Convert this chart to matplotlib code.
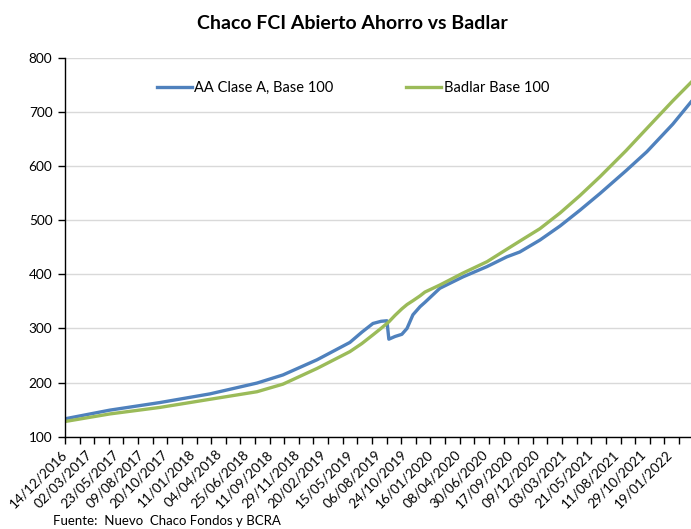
import numpy as np
import pandas as pd
import matplotlib
matplotlib.use('Agg')
import matplotlib.pyplot as plt
import matplotlib.transforms as mtransforms

plt.rcParams['font.family'] = ['Lato', 'DejaVu Sans']

# Valores (base 100)
fechas = ['2016-12-14', '2017-05-01', '2017-10-02', '2018-03-05', '2018-07-28',
          '2018-10-16', '2019-01-29', '2019-05-10', '2019-06-16', '2019-07-20',
          '2019-08-14', '2019-09-01', '2019-09-07', '2019-09-26', '2019-10-17',
          '2019-11-02', '2019-11-20', '2019-12-12', '2019-12-27', '2020-02-11',
          '2020-04-22', '2020-07-05', '2020-09-04', '2020-10-14', '2020-12-15',
          '2021-02-15', '2021-04-17', '2021-06-18', '2021-09-06', '2021-11-09',
          '2022-01-28', '2022-03-25']
aa_clase_a = [133, 149, 163, 179, 199, 214, 242, 274, 293, 309,
              313, 314, 280, 285, 289, 300, 325, 340, 348, 374,
              395, 414, 432, 441, 463, 489, 518, 549, 591, 626,
              677, 718]
badlar = [128, 142, 154, 169, 183, 197, 226, 257, 272, 288,
          300, 309, 312, 324, 336, 344, 351, 360, 367, 380,
          402, 423, 446, 461, 484, 513, 545, 580, 628, 669,
          720, 754]

etiquetas_x = ['14/12/2016', '02/03/2017', '23/05/2017', '09/08/2017', '20/10/2017',
               '11/01/2018', '04/04/2018', '25/06/2018', '11/09/2018', '29/11/2018',
               '20/02/2019', '15/05/2019', '06/08/2019', '24/10/2019', '16/01/2020',
               '08/04/2020', '30/06/2020', '17/09/2020', '09/12/2020', '03/03/2021',
               '21/05/2021', '11/08/2021', '29/10/2021', '19/01/2022']

x = pd.to_datetime(fechas)
x_etiq = pd.to_datetime(etiquetas_x, format='%d/%m/%Y')

fig = plt.figure(figsize=(6.91, 5.29), dpi=100)
ax = fig.add_axes([0.094, 0.1745, 0.906, 0.7168])

ax.plot(x, aa_clase_a, color='#4F81BD', lw=2.4, label='AA Clase A, Base 100')
ax.plot(x, badlar, color='#9BBB59', lw=2.4, label='Badlar Base 100')

ax.set_ylim(100, 800)
ax.set_yticks(range(100, 801, 100))
ax.set_xlim(x[0], x[-1])

# marcas del eje cada ~45 dias, etiquetas aparte (eje de categorias estilo Excel)
ax.xaxis.remove_overlapping_locs = False
marcas = np.arange(np.datetime64('2016-12-14'), np.datetime64('2022-03-25'), np.timedelta64(45, 'D'))
ax.set_xticks(marcas)
ax.set_xticklabels([])
ax.set_xticks(x_etiq, minor=True)
ax.set_xticklabels(etiquetas_x, minor=True, rotation=45, ha='right', va='center',
                   rotation_mode='anchor', fontsize=9.8)
desplaza = mtransforms.ScaledTranslation(3 / 100, 0, fig.dpi_scale_trans)
for lbl in ax.get_xticklabels(minor=True):
    lbl.set_transform(lbl.get_transform() + desplaza)

ax.tick_params(axis='x', which='major', direction='out', length=5, width=1, color='black')
ax.tick_params(axis='x', which='minor', length=0, pad=11)
ax.tick_params(axis='y', direction='out', length=5, width=1, labelsize=9.8, pad=4)

ax.grid(axis='y', color='#D9D9D9', lw=1)
ax.set_axisbelow(True)
for s in ['top', 'right']:
    ax.spines[s].set_visible(False)
for s in ['left', 'bottom']:
    ax.spines[s].set_color('black')
    ax.spines[s].set_linewidth(1)

ax.legend(loc='center left', bbox_to_anchor=(0.147, 0.92), ncol=2, frameon=False,
          fontsize=10.5, handlelength=2.4, handletextpad=0.15, columnspacing=5,
          borderpad=0, borderaxespad=0)

fig.text(0.51, 0.955, 'Chaco FCI Abierto Ahorro vs Badlar', ha='center', va='center',
         fontsize=14, fontweight='bold')
fig.text(0.077, 0.003, 'Fuente:  Nuevo  Chaco Fondos y BCRA', ha='left', va='bottom',
         fontsize=9.5)

fig.savefig('out.png', dpi=100)
